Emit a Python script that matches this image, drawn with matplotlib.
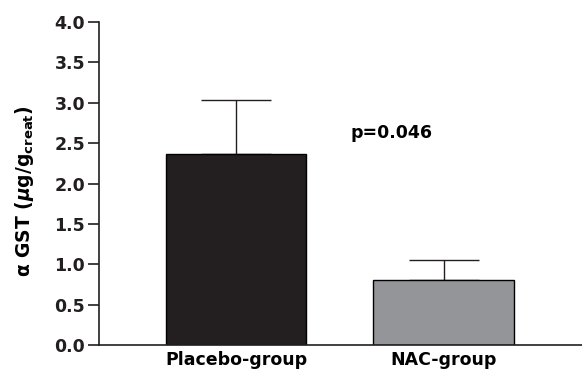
import matplotlib
matplotlib.use("Agg")
import matplotlib.pyplot as plt

categories = ["Placebo-group", "NAC-group"]
means = [2.36, 0.80]
errors = [0.67, 0.25]
colors = ["#231f20", "#939598"]
yticks = [0.0, 0.5, 1.0, 1.5, 2.0, 2.5, 3.0, 3.5, 4.0]
p_text = "p=0.046"

plt.rcParams['font.family'] = ['DejaVu Sans']
plt.rcParams['font.weight'] = 'bold'
plt.rcParams['mathtext.fontset'] = 'custom'
plt.rcParams['mathtext.rm'] = 'DejaVu Sans:bold'
plt.rcParams['mathtext.it'] = 'DejaVu Sans:italic:bold'
plt.rcParams['mathtext.bf'] = 'DejaVu Sans:bold'

fig = plt.figure(figsize=(5.82, 3.74), dpi=100)
ax = fig.add_axes([0.170, 0.0775, 0.830, 0.8636])

x = list(range(len(categories)))
ax.bar(x, means, width=0.675, color=colors, edgecolor="black", linewidth=1.0, zorder=2)
ax.errorbar(x, means, yerr=[[0]*len(errors), errors], fmt='none', ecolor='#231f20',
            elinewidth=1.0, capsize=25, capthick=1.0, zorder=1)

ax.set_xlim(-0.66, 1.667)
ax.set_ylim(0, 4.0)
ax.set_yticks(yticks)
ax.set_yticklabels([f"{v:.1f}" for v in yticks], fontsize=12.5, fontweight='bold')
ax.set_xticks(x)
ax.set_xticklabels(categories, fontsize=12.5, fontweight='bold')
ax.tick_params(axis='x', length=0, pad=4)
ax.tick_params(axis='y', length=8, width=1.2, direction='out', pad=2, colors='#231f20')

for s in ['top', 'right']:
    ax.spines[s].set_visible(False)
for s in ['left', 'bottom']:
    ax.spines[s].set_linewidth(1.2)
    ax.spines[s].set_color('#231f20')

ax.set_ylabel(r"α GST ($\mu$g/g$_{\mathrm{creat}}$)", fontsize=13.5, fontweight='bold')
ax.yaxis.set_label_coords(-0.131, 0.477)
ax.text(0.747, 2.62, p_text, fontsize=12.5, fontweight='bold', ha='center', va='center')

fig.savefig("out.png", dpi=100)
